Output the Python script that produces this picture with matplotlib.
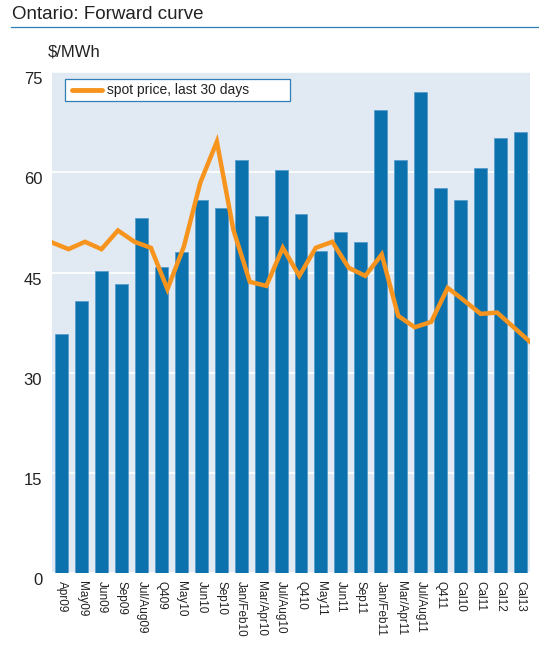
import numpy as np
import matplotlib.pyplot as plt
from matplotlib.lines import Line2D
from matplotlib.patches import Rectangle

plt.rcParams['font.family'] = ['Liberation Sans', 'DejaVu Sans']

# forward contracts ($/MWh)
contracts = ['Apr09', 'May09', 'Jun09', 'Sep09', 'Jul/Aug09', 'Q409', 'May10', 'Jun10',
             'Sep10', 'Jan/Feb10', 'Mar/Apr10', 'Jul/Aug10', 'Q410', 'May11', 'Jun11',
             'Sep11', 'Jan/Feb11', 'Mar/Apr11', 'Jul/Aug11', 'Q411', 'Cal10', 'Cal11',
             'Cal12', 'Cal13']
forward = [35.8, 40.7, 45.2, 43.3, 53.2, 45.9, 48.0, 55.9, 54.7, 61.8, 53.4, 60.4,
           53.8, 48.2, 51.0, 49.5, 69.4, 61.9, 72.0, 57.7, 55.9, 60.7, 65.2, 66.1]

# spot price, last 30 days
spot = [49.5, 48.5, 49.6, 48.5, 51.3, 49.6, 48.7, 42.5, 48.9, 58.5,
        64.6, 51.4, 43.6, 43.0, 48.7, 44.5, 48.7, 49.6, 45.7, 44.5,
        47.7, 38.5, 36.8, 37.6, 42.7, 40.8, 38.8, 39.0, 36.8, 34.6]

BLUE = '#0b72ad'
ORANGE = '#f7941d'
TXT = '#222222'

fig = plt.figure(figsize=(5.39, 6.51), dpi=100)
ax = fig.add_axes([0.0965, 0.12, 0.887, 0.769])
ax.set_facecolor('#e1e9f3')

x = np.arange(len(contracts))
ax.bar(x, forward, width=0.65, color=BLUE, edgecolor='#5a9ccc', linewidth=0.6, zorder=2)
ax.set_xlim(-0.5, len(contracts) - 0.5)
ax.set_ylim(0, 75)
ax.set_yticks([0, 15, 30, 45, 60, 75])
ax.set_yticklabels(['0', '15', '30', '45', '60', '75'], va='top')
ax.yaxis.grid(True, color='white', linewidth=1.2, zorder=1)
ax.set_axisbelow(True)
ax.set_xticks(x)
ax.set_xticklabels(contracts, rotation=-90, fontsize=8.5, va='top', ha='center')
ax.tick_params(axis='both', length=0, colors=TXT)
ax.tick_params(axis='y', labelsize=12, pad=7)
ax.tick_params(axis='x', pad=6)
for s in ax.spines.values():
    s.set_visible(False)

ax2 = ax.twiny()
ax2.plot(np.arange(len(spot)), spot, color=ORANGE, linewidth=3.2, solid_joinstyle='miter', zorder=3)
ax2.set_xlim(0, len(spot) - 1)
ax2.set_ylim(0, 75)
ax2.set_xticks([])
for s in ax2.spines.values():
    s.set_visible(False)

# legend box (fixed width like the original)
ax2.add_patch(Rectangle((0.027, 0.942), 0.471, 0.044, transform=ax2.transAxes,
                        facecolor='white', edgecolor='#2f7fb5', linewidth=0.9, zorder=5))
ax2.add_line(Line2D([0.042, 0.105], [0.964, 0.964], transform=ax2.transAxes,
                    color=ORANGE, linewidth=3.5, solid_capstyle='round', zorder=6))
ax2.text(0.115, 0.964, 'spot price, last 30 days', transform=ax2.transAxes,
         fontsize=10, color=TXT, va='center', zorder=6)

fig.text(0.022, 0.978, 'Ontario: Forward curve', fontsize=13.5, color=TXT, va='center')
fig.add_artist(Line2D([0.02, 1.0], [0.9585, 0.9585], color='#2f7fb5', linewidth=0.9))
fig.text(0.089, 0.92, '$/MWh', fontsize=12, color=TXT, va='center')

fig.savefig('out.png', dpi=100)
